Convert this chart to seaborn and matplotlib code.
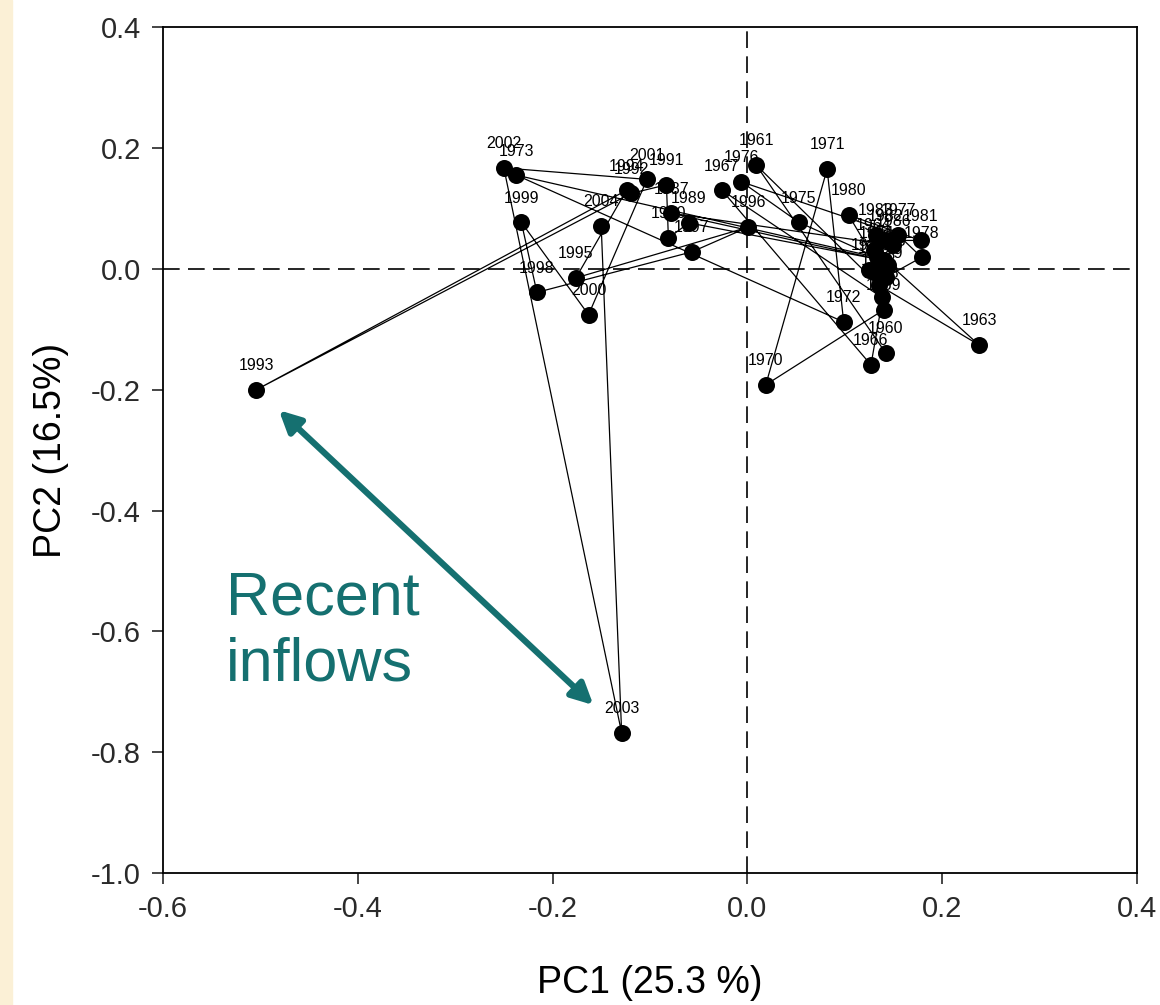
import numpy as np
import pandas as pd
import seaborn as sns
import matplotlib.pyplot as plt
from matplotlib.patches import Rectangle

# PCA scores per year
years = list(range(1960, 2005))
pc1 = [0.142, 0.009, 0.135, 0.238, 0.130, 0.145, 0.127, -0.026, 0.138, 0.140,
       0.019, 0.082, 0.099, -0.237, 0.133, 0.053, -0.006, 0.155, 0.179, 0.142,
       0.104, 0.178, 0.142, 0.132, 0.132, 0.125, 0.150, -0.078, 0.140, -0.060,
       -0.081, -0.083, -0.119, -0.504, -0.124, -0.176, 0.001, -0.057, -0.216, -0.232,
       -0.163, -0.103, -0.250, -0.129, -0.150]
pc2 = [-0.139, 0.172, -0.027, -0.126, 0.031, 0.006, -0.159, 0.130, -0.047, -0.068,
       -0.192, 0.165, -0.088, 0.155, 0.019, 0.077, 0.144, 0.056, 0.019, -0.014,
       0.089, 0.047, 0.047, 0.056, -0.007, -0.002, 0.039, 0.092, 0.014, 0.076,
       0.051, 0.139, 0.125, -0.200, 0.130, -0.015, 0.069, 0.028, -0.039, 0.077,
       -0.076, 0.148, 0.167, -0.768, 0.071]

x_ticks = [-0.6, -0.4, -0.2, 0.0, 0.2, 0.4]
y_ticks = [-1.0, -0.8, -0.6, -0.4, -0.2, 0.0, 0.2, 0.4]

df = pd.DataFrame({"year": years, "pc1": pc1, "pc2": pc2})

sns.set_theme(style="ticks")
plt.rcParams['font.family'] = ['Liberation Sans', 'DejaVu Sans']

fig = plt.figure(figsize=(11.6, 10.05), dpi=100)
fig.patches.append(Rectangle((0, 0), 0.01, 1, transform=fig.transFigure,
                             color='#fbf0d6', zorder=0))
ax = fig.add_axes([0.1405, 0.1313, 0.8395, 0.8417])

ax.axhline(0, color='black', lw=1.2, ls=(0, (10, 5)), zorder=1)
ax.axvline(0, color='black', lw=1.2, ls=(0, (10, 5)), zorder=1)

sns.lineplot(data=df, x="pc1", y="pc2", sort=False, estimator=None,
             color='black', lw=0.9, ax=ax, zorder=2)
sns.scatterplot(data=df, x="pc1", y="pc2", color='black', s=150,
                edgecolor='black', linewidth=0, ax=ax, zorder=3)

for yr, xv, yv in zip(years, pc1, pc2):
    ax.annotate(str(yr), (xv, yv), xytext=(0, 12), textcoords='offset points',
                ha='center', va='bottom', fontsize=11.5, color='black', zorder=4)

# annotation arrow and text
ax.annotate('', xy=(-0.481, -0.234), xytext=(-0.158, -0.722),
            arrowprops=dict(arrowstyle='<|-|>', color='#157070', lw=4.5,
                            mutation_scale=32, shrinkA=0, shrinkB=0))
ax.text(-0.535, -0.601, 'Recent\ninflows', color='#157070', fontsize=44,
        ha='left', va='center', linespacing=1.2)

ax.set_xlim(-0.6, 0.4)
ax.set_ylim(-1.0, 0.4)
ax.set_xticks(x_ticks)
ax.set_yticks(y_ticks)
ax.set_xticklabels([f"{t:.1f}" for t in x_ticks])
ax.set_yticklabels([f"{t:.1f}" for t in y_ticks])
ax.tick_params(axis='both', which='both', direction='out', length=8, width=1.2,
               labelsize=21, labelcolor='#2a2a2a', top=False, right=False, pad=8)
for sp in ax.spines.values():
    sp.set_linewidth(1.3)
    sp.set_color('black')
    sp.set_visible(True)

ax.set_xlabel('PC1 (25.3 %)', fontsize=27, color='black', labelpad=30)
ax.set_ylabel('PC2 (16.5%)', fontsize=27, color='black', labelpad=16)

fig.savefig('out.png', dpi=100, facecolor='white')
